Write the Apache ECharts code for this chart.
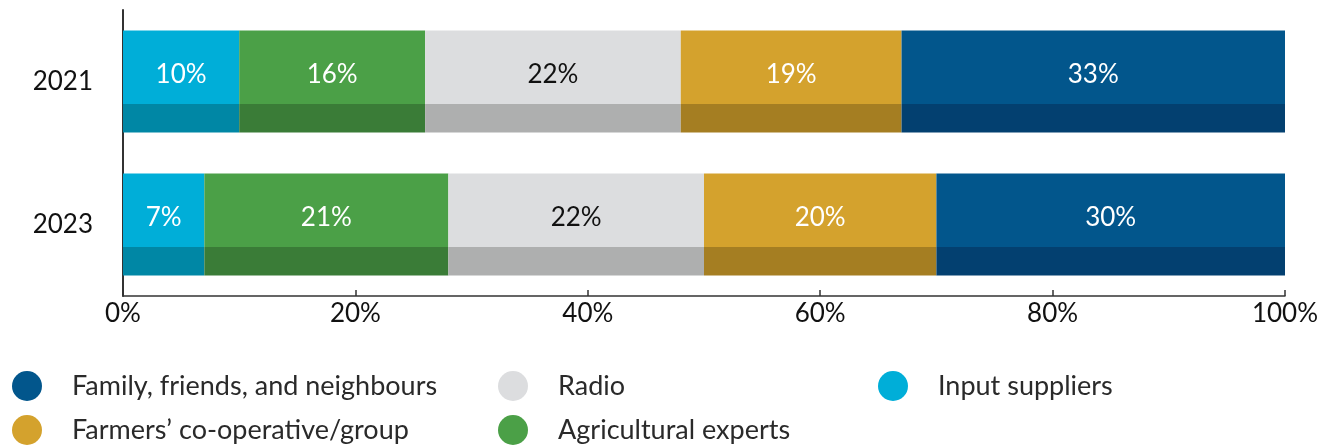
<!DOCTYPE html>
<html>
<head>
<meta charset="utf-8">
<script src="https://cdn.jsdelivr.net/npm/echarts@6/dist/echarts.min.js"></script>
<style>html,body{margin:0;padding:0;background:#fff}#c{width:1329px;height:447px}</style>
</head>
<body>
<div id="c"></div>
<script>
const years = ['2021', '2023'];
const seriesNames = ['Input suppliers', 'Agricultural experts', 'Radio', "Farmers’ co-operative/group", 'Family, friends, and neighbours'];
const inputSuppliers = [10, 7];
const agriculturalExperts = [16, 21];
const radio = [22, 22];
const farmersCoop = [19, 20];
const familyFriends = [33, 30];
const xTicks = [0, 20, 40, 60, 80, 100];

const values = [inputSuppliers, agriculturalExperts, radio, farmersCoop, familyFriends];
const lightColors = ['#00AED8', '#4BA047', '#DCDDDF', '#D4A22D', '#02568C'];
const darkColors = ['#0087A5', '#3A7C37', '#AEAFAF', '#A57E22', '#034070'];
const labelColors = ['#fff', '#fff', '#111', '#fff', '#fff'];
const FONT = 'Lato';
const FS = 26;

const series = seriesNames.map((n, i) => ({
  name: n,
  type: 'bar',
  stack: 'total',
  barWidth: 102,
  data: values[i],
  itemStyle: {
    color: {
      type: 'linear', x: 0, y: 0, x2: 0, y2: 1,
      colorStops: [
        {offset: 0, color: lightColors[i]},
        {offset: 0.716, color: lightColors[i]},
        {offset: 0.716, color: darkColors[i]},
        {offset: 1, color: darkColors[i]}
      ]
    }
  },
  label: {
    show: true, position: 'inside', offset: [0, -7],
    formatter: '{c}%', color: labelColors[i],
    fontFamily: FONT, fontSize: FS
  },
  emphasis: {disabled: true}
}));

function legendFor(names, left) {
  return {
    orient: 'vertical', left: left, top: 371, height: 76, padding: 0,
    itemWidth: 30, itemHeight: 30, itemGap: 14, icon: 'circle',
    textStyle: {fontFamily: FONT, fontSize: 27, color: '#2a2a2a', padding: [0, 0, 0, 25]},
    data: names.map(n => ({name: n, itemStyle: {color: lightColors[seriesNames.indexOf(n)]}}))
  };
}

const chart = echarts.init(document.getElementById('c'));
chart.setOption({
  animation: false,
  grid: {left: 123, right: 44, top: 10, bottom: 151},
  xAxis: {
    type: 'value', min: 0, max: 100, interval: 20,
    axisLine: {show: true, lineStyle: {color: '#333', width: 1.5}},
    axisTick: {show: true, inside: true, length: 6, lineStyle: {color: '#333', width: 1.5}},
    splitLine: {show: false},
    axisLabel: {
      formatter: v => xTicks.includes(v) ? v + '%' : '',
      fontFamily: FONT, fontSize: FS, color: '#111', margin: 5
    }
  },
  yAxis: {
    type: 'category', inverse: true, data: years,
    axisLine: {show: true, lineStyle: {color: '#333', width: 2}},
    axisTick: {show: false},
    axisLabel: {fontFamily: FONT, fontSize: FS, color: '#111', margin: 30}
  },
  legend: [
    legendFor(['Family, friends, and neighbours', "Farmers’ co-operative/group"], 12),
    legendFor(['Radio', 'Agricultural experts'], 498),
    legendFor(['Input suppliers'], 878)
  ],
  series: series
});
</script>
</body>
</html>
